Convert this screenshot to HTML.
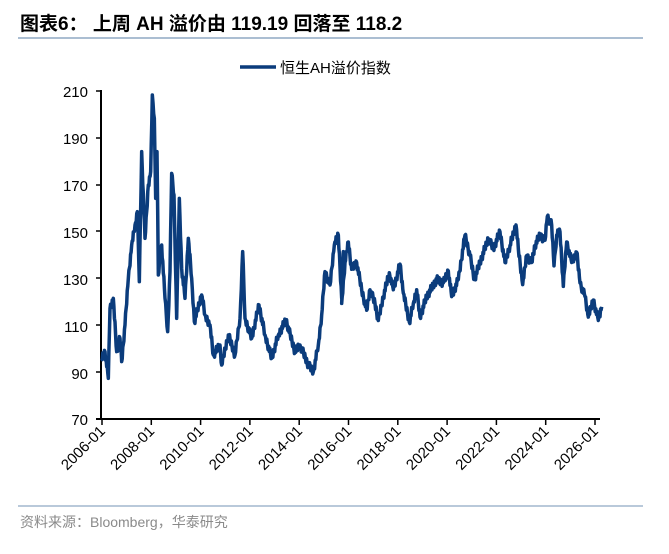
<!DOCTYPE html>
<html><head><meta charset="utf-8"><style>
body{margin:0;background:#fff;width:669px;height:549px;overflow:hidden;font-family:"Liberation Sans","Noto Sans CJK SC",sans-serif}
</style></head><body>
<svg width="669" height="549" xmlns="http://www.w3.org/2000/svg" font-family="Liberation Sans, Noto Sans CJK SC, sans-serif">
<text x="20" y="30" font-size="19" font-weight="bold" fill="#000">图表6：  上周 AH 溢价由 119.19 回落至 118.2</text>
<line x1="18" y1="38" x2="643" y2="38" stroke="#8fa9c4" stroke-width="1.5"/>
<line x1="240" y1="67" x2="276" y2="67" stroke="#0b3c7c" stroke-width="3.5"/>
<text x="280" y="73" font-size="15" fill="#000">恒生AH溢价指数</text>
<g font-size="15" fill="#000" text-anchor="end">
<text x="88" y="97">210</text><text x="88" y="144">190</text><text x="88" y="191">170</text><text x="88" y="238">150</text><text x="88" y="285">130</text><text x="88" y="332">110</text><text x="88" y="379">90</text><text x="88" y="425">70</text>
</g>
<g stroke="#000" stroke-width="1.5">
<line x1="96" y1="91" x2="101" y2="91"/><line x1="96" y1="138" x2="101" y2="138"/><line x1="96" y1="185" x2="101" y2="185"/><line x1="96" y1="231" x2="101" y2="231"/><line x1="96" y1="278" x2="101" y2="278"/><line x1="96" y1="325" x2="101" y2="325"/><line x1="96" y1="372" x2="101" y2="372"/>
</g>
<line x1="101" y1="90" x2="101" y2="420" stroke="#000" stroke-width="2"/>
<line x1="96" y1="419" x2="600" y2="419" stroke="#000" stroke-width="2"/>
<g id="ticks" stroke="#000" stroke-width="1.5"></g>
<g id="xl" font-size="15" fill="#000"></g>
<polyline id="ser" fill="none" stroke="#0b3c7c" stroke-width="3.5" stroke-linejoin="round"/>
<line x1="18" y1="506" x2="643" y2="506" stroke="#8fa9c4" stroke-width="1.2"/>
<text x="20" y="527" font-size="14" fill="#8a8a8a">资料来源：Bloomberg，华泰研究</text>
</svg>
<script>
var t=document.getElementById('ticks'),xl=document.getElementById('xl'),ns='http://www.w3.org/2000/svg';
for(var i=0;i<=10;i++){var x=102+i*49.3;var l=document.createElementNS(ns,'line');l.setAttribute('x1',x);l.setAttribute('x2',x);l.setAttribute('y1',419);l.setAttribute('y2',425);t.appendChild(l);
var tx=document.createElementNS(ns,'text');tx.setAttribute('transform','translate('+(x+4)+',432) rotate(-45)');tx.setAttribute('text-anchor','end');tx.textContent=(2006+2*i)+'-01';xl.appendChild(tx);}
var z1=[20,820,30,800,40,880,45,670,55,640,65,800,75,760,80,830,90,720,100,580,110,480,120,420,127,380,133,590,140,200,150,460,160,300,167,260,172,30,178,100,182,340,186,200,190,570,200,480,210,640,218,740,225,560,230,265,237,330,245,700,253,340,260,550,270,640,280,460,290,580,298,710,320,630,330,690,345,720,355,810,375,780,380,840,400,750,420,810,435,700,443,500,450,700,470,760,492,660,510,750,530,820,550,750,573,705,600,800,615,780,640,840,655,860,670,780,680,690,690,560,705,600,718,480,730,450,740,640,745,500];
var z2=[5,640,15,520,25,460,35,540,50,520,65,600,80,660,90,600,105,640,115,690,130,620,148,550,160,600,180,525,190,610,208,695,220,640,230,600,240,680,260,620,290,570,310,580,325,545,335,620,355,570,375,440,390,500,403,570,420,520,445,450,460,480,480,430,495,520,510,470,528,410,535,480,548,585,560,500,575,520,585,470,600,440,615,455,622,385,635,410,642,530,650,440,660,430,670,590,680,460,695,520,710,490,720,580,735,620,745,680,760,630,775,690,785,650];
var P=[];for(var i=0;i<z1.length;i+=2)P.push([95+z1[i]/3,85+z1[i+1]/3]);
for(var i=0;i<z2.length;i+=2)P.push([340+z2[i]/3,85+z2[i+1]/2.93]);
var pts=[],k=0;
for(var i=0;i<P.length-1;i++){var a=P[i],b=P[i+1];var n=Math.max(1,Math.round((b[0]-a[0])/0.6));
for(var j=0;j<n;j++){k++;var f=j/n;var nz=j?(((k*37)%11)-5)*0.8:0;var x=a[0]+(b[0]-a[0])*f,y=a[1]+(b[1]-a[1])*f+nz;pts.push(x.toFixed(2)+','+y.toFixed(2));}}
var L=P[P.length-1];pts.push(L[0].toFixed(1)+','+L[1].toFixed(1));
document.getElementById('ser').setAttribute('points',pts.join(' '));
</script>
</body></html>
